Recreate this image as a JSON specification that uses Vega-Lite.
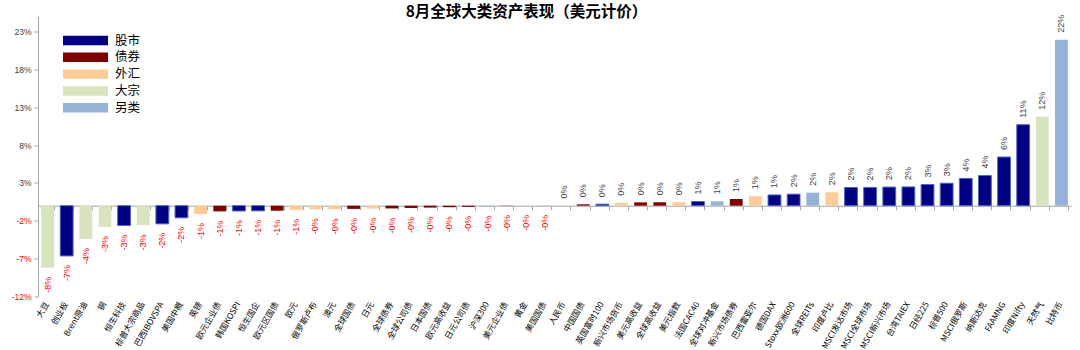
{
  "$schema": "https://vega.github.io/schema/vega-lite/v6.json",
  "width": 1033,
  "height": 280,
  "autosize": {"type": "none"},
  "padding": {"left": 38, "top": 16.5, "right": 9, "bottom": 53.5},
  "background": "white",
  "title": {"text": "8月全球大类资产表现（美元计价）", "fontSize": 15.5, "fontWeight": "bold", "font": "Noto Sans CJK SC", "color": "#000000", "anchor": "middle", "dx": -28, "offset": 0, "baseline": "bottom", "dy": 21},
  "config": {"view": {"stroke": null}},
  "data": {"values": [
    {"name": "大豆", "v": -8.19, "type": "大宗", "label": "-8%"},
    {"name": "创业板", "v": -6.64, "type": "股市", "label": "-7%"},
    {"name": "Brent原油", "v": -4.4, "type": "大宗", "label": "-4%"},
    {"name": "铜", "v": -2.8, "type": "大宗", "label": "-3%"},
    {"name": "恒生科技", "v": -2.62, "type": "股市", "label": "-3%"},
    {"name": "标普大宗商品", "v": -2.57, "type": "大宗", "label": "-3%"},
    {"name": "巴西IBOVSPA", "v": -2.4, "type": "股市", "label": "-2%"},
    {"name": "美国中概", "v": -1.6, "type": "股市", "label": "-2%"},
    {"name": "英镑", "v": -1.1, "type": "外汇", "label": "-1%"},
    {"name": "欧元企业债", "v": -0.75, "type": "债券", "label": "-1%"},
    {"name": "韩国KOSPI", "v": -0.7, "type": "股市", "label": "-1%"},
    {"name": "恒生国企", "v": -0.68, "type": "股市", "label": "-1%"},
    {"name": "欧元区国债", "v": -0.66, "type": "债券", "label": "-1%"},
    {"name": "欧元", "v": -0.55, "type": "外汇", "label": "-1%"},
    {"name": "俄罗斯卢布", "v": -0.48, "type": "外汇", "label": "-0%"},
    {"name": "澳元", "v": -0.46, "type": "外汇", "label": "-0%"},
    {"name": "全球国债", "v": -0.42, "type": "债券", "label": "-0%"},
    {"name": "日元", "v": -0.38, "type": "外汇", "label": "-0%"},
    {"name": "全球债券", "v": -0.36, "type": "债券", "label": "-0%"},
    {"name": "全球公司债", "v": -0.3, "type": "债券", "label": "-0%"},
    {"name": "日本国债", "v": -0.25, "type": "债券", "label": "-0%"},
    {"name": "欧元高收益", "v": -0.2, "type": "债券", "label": "-0%"},
    {"name": "日元公司债", "v": -0.15, "type": "债券", "label": "-0%"},
    {"name": "沪深300", "v": -0.12, "type": "另类", "label": "-0%"},
    {"name": "美元企业债", "v": -0.03, "type": "债券", "label": "-0%"},
    {"name": "黄金", "v": -0.02, "type": "大宗", "label": "-0%"},
    {"name": "美国国债", "v": -0.01, "type": "债券", "label": "-0%"},
    {"name": "人民币", "v": 0.03, "type": "外汇", "label": "0%"},
    {"name": "中国国债", "v": 0.18, "type": "债券", "label": "0%"},
    {"name": "英国富时100", "v": 0.2, "type": "股市", "label": "0%"},
    {"name": "新兴市场货币", "v": 0.38, "type": "外汇", "label": "0%"},
    {"name": "美元高收益", "v": 0.44, "type": "债券", "label": "0%"},
    {"name": "全球高收益", "v": 0.45, "type": "债券", "label": "0%"},
    {"name": "美元指数", "v": 0.46, "type": "外汇", "label": "0%"},
    {"name": "法国CAC40", "v": 0.55, "type": "股市", "label": "1%"},
    {"name": "全球对冲基金", "v": 0.58, "type": "另类", "label": "1%"},
    {"name": "新兴市场债券", "v": 0.88, "type": "债券", "label": "1%"},
    {"name": "巴西雷亚尔", "v": 1.25, "type": "外汇", "label": "1%"},
    {"name": "德国DAX", "v": 1.42, "type": "股市", "label": "1%"},
    {"name": "Stoxx欧洲600", "v": 1.52, "type": "股市", "label": "2%"},
    {"name": "全球REITs", "v": 1.72, "type": "另类", "label": "2%"},
    {"name": "印度卢比", "v": 1.76, "type": "外汇", "label": "2%"},
    {"name": "MSCI发达市场", "v": 2.4, "type": "股市", "label": "2%"},
    {"name": "MSCI全球市场", "v": 2.41, "type": "股市", "label": "2%"},
    {"name": "MSCI新兴市场", "v": 2.46, "type": "股市", "label": "2%"},
    {"name": "台湾TAIEX", "v": 2.48, "type": "股市", "label": "2%"},
    {"name": "日经225", "v": 2.8, "type": "股市", "label": "3%"},
    {"name": "标普500", "v": 2.97, "type": "股市", "label": "3%"},
    {"name": "MSCI俄罗斯", "v": 3.6, "type": "股市", "label": "4%"},
    {"name": "纳斯达克", "v": 3.98, "type": "股市", "label": "4%"},
    {"name": "FAAMNG", "v": 6.43, "type": "股市", "label": "6%"},
    {"name": "印度Nifty", "v": 10.7, "type": "股市", "label": "11%"},
    {"name": "天然气", "v": 11.76, "type": "大宗", "label": "12%"},
    {"name": "比特币", "v": 21.93, "type": "另类", "label": "22%"}
  ]},
  "encoding": {
    "y": {
      "field": "v", "type": "quantitative",
      "scale": {"domain": [-12, 25], "nice": false},
      "axis": {
        "values": [-12, -7, -2, 3, 8, 13, 18, 23],
        "labelExpr": "datum.value + '%'",
        "grid": false, "title": null,
        "domainColor": "#a6a6a6", "tickColor": "#a6a6a6", "tickSize": 4,
        "labelFontSize": 8.5, "labelFont": "Liberation Sans", "labelPadding": 3,
        "labelColor": {"condition": {"test": "datum.value < 0", "value": "#ff0000"}, "value": "#404040"}
      }
    }
  },
  "layer": [
    {
      "mark": {"type": "bar"},
      "encoding": {
        "x": {
          "field": "name", "type": "nominal", "sort": null,
          "scale": {"paddingInner": 0.33, "paddingOuter": 0.165},
          "axis": {"orient": "bottom", "offset": -90.8, "labels": false, "title": null,
                   "domainColor": "#a6a6a6", "tickColor": "#a6a6a6", "tickBand": "extent", "tickSize": 4, "grid": false}
        },
        "color": {
          "field": "type", "type": "nominal",
          "scale": {"domain": ["股市", "债券", "外汇", "大宗", "另类"], "range": ["#000080", "#800000", "#FFCC99", "#D7E4BD", "#95B3D7"]},
          "legend": {
            "orient": "none", "legendX": 25, "legendY": 16, "title": null,
            "symbolType": "M-1,-0.21H1V0.21H-1Z", "symbolSize": 2025,
            "symbolStrokeWidth": 0, "symbolOpacity": 1,
            "labelFontSize": 12.5, "labelFont": "Noto Sans CJK SC", "labelColor": "#000000",
            "clipHeight": 16, "rowPadding": 0.8, "labelOffset": 7, "padding": 0
          }
        },
        "stroke": {"condition": {"test": "datum.type === '股市'", "value": "#4a66c4"}, "value": "transparent"}
      }
    },
    {
      "mark": {"type": "text", "angle": 270, "align": "left", "baseline": "middle", "dx": 7, "fontSize": 9, "font": "Liberation Sans", "color": "#404040"},
      "encoding": {
        "x": {
          "field": "name", "type": "nominal", "sort": null,
          "axis": {"orient": "bottom", "offset": 0, "domain": false, "ticks": false, "title": null, "grid": false,
                   "labelAngle": -60, "labelAlign": "right", "labelBaseline": "middle", "labelPadding": 6,
                   "labelFontSize": 8.3, "labelFont": "Noto Sans CJK SC", "labelColor": "#000000",
                   "labelOverlap": false, "labelLimit": 200, "labelBound": false}
        },
        "text": {"condition": {"test": "datum.v >= 0", "field": "label"}, "value": ""}
      }
    },
    {
      "mark": {"type": "text", "angle": 270, "align": "right", "baseline": "middle", "dx": -9, "fontSize": 9, "font": "Liberation Sans", "color": "#ff0000"},
      "encoding": {
        "x": {"field": "name", "type": "nominal", "sort": null, "axis": null},
        "text": {"condition": {"test": "datum.v < 0", "field": "label"}, "value": ""}
      }
    }
  ],
  "resolve": {"axis": {"x": "independent"}}
}
